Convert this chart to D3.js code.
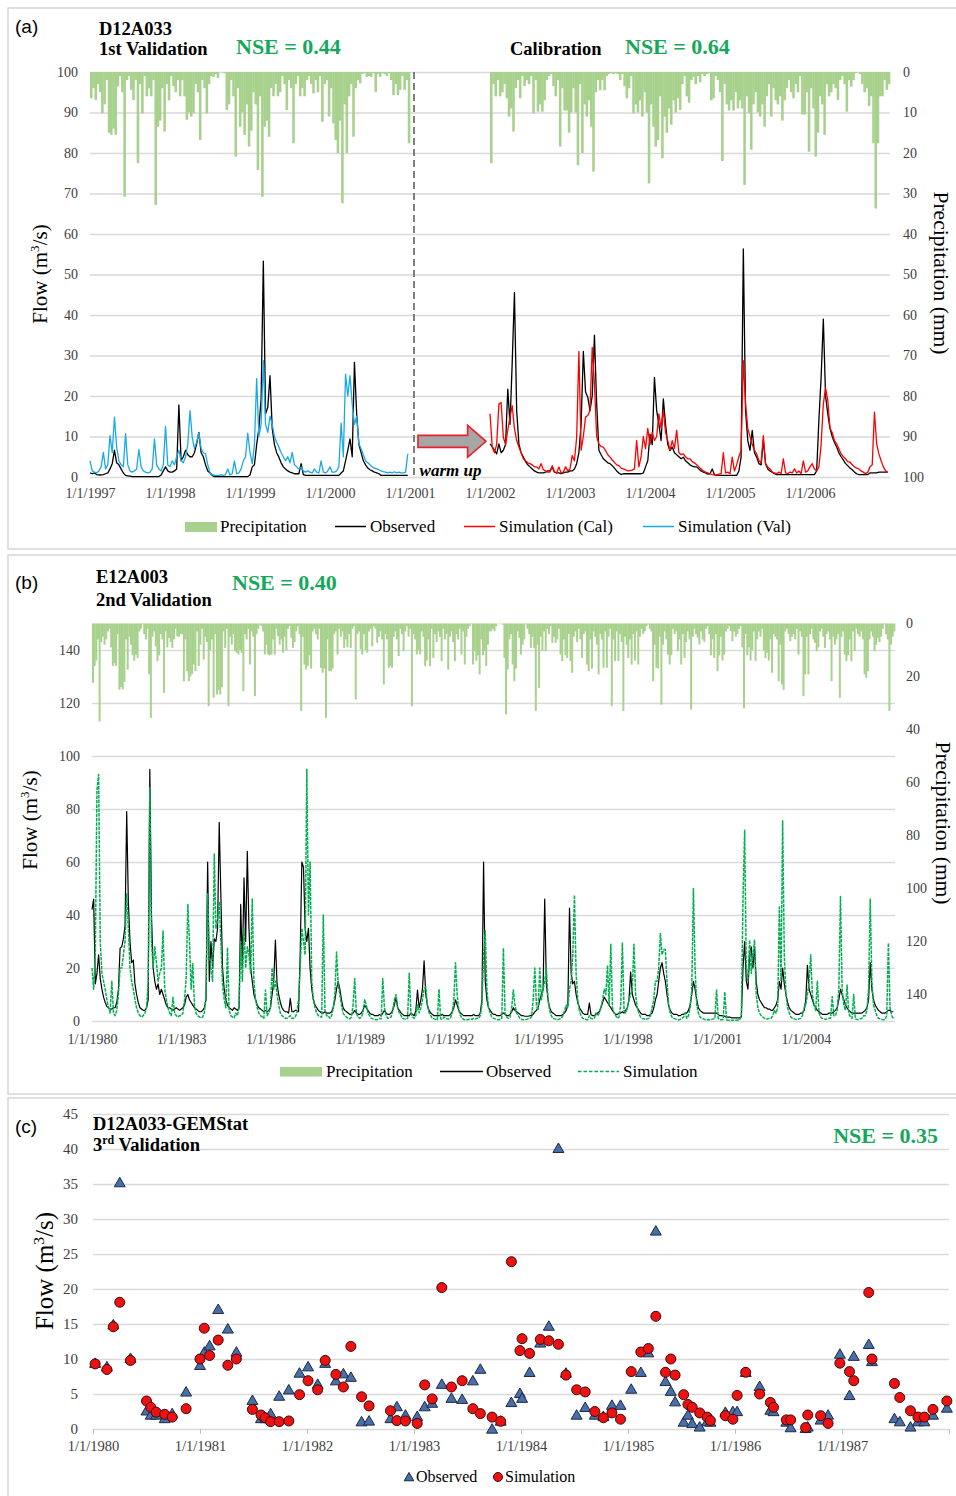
<!DOCTYPE html>
<html>
<head>
<meta charset="utf-8">
<script src="https://cdn.jsdelivr.net/npm/d3@7"></script>
<style>
  body { margin: 0; background: #fff; }
</style>
</head>
<body>
<svg id="chart" width="956" height="1496"></svg>
<script>
// ---- panel (a): D12A033, 36 samples per year ----
const yearsA = [1997, 1998, 1999, 2000, 2001, 2002, 2003, 2004, 2005, 2006];

// 1997-2000 (validation)
const precipA1 = [
  6.5, 4, 6.9, 3, 5, 10.2, 8, 2, 15, 15.5, 14, 15.5, 3.6, 1, 5, 30.8, 2, 1, 4.4, 6.9, 2, 22.5, 3, 10.2, 1, 6, 4, 6, 2, 32.8, 13.5, 12, 4, 14.7, 3, 7,
  1, 3.5, 5, 2, 6, 2, 6, 11.8, 10, 11, 10.2, 3, 5, 16.8, 2, 4, 10.2, 3, 1, 1.2, 0.5, 1.5, 0, 0, 0.3, 9.4, 8, 2, 6, 20.9, 4, 13.5, 10, 15.5, 8, 18.4,
  14.5, 5, 8, 24.2, 6, 30.8, 13.5, 12, 16, 4, 6, 3, 6, 5, 1, 3, 9.4, 2, 4, 17.6, 3, 1, 6, 4, 6, 2, 1, 3, 5.3, 2, 5, 1, 12.3, 3, 2, 11,
  4, 12.7, 16.8, 20, 12, 32.4, 8, 20, 6, 3, 16, 4, 2, 2.8, 0.5, 0.3, 1.2, 1, 1.2, 0.3, 4.9, 0.5, 1.2, 0.3, 0.5, 1, 0.3, 2, 5.7, 3, 5.7, 4.4, 1, 4.4, 2, 17.6
];
const obsA1 = [
  1, 0.8, 1, 0.6, 0.5, 0.5, 0.6, 0.8, 1, 2, 3.3, 6.6, 3.5, 3, 2, 1, 0.4, 0.3, 0.2, 0.1, 0.1, 0.1, 0.1, 0.1, 0.1, 0.1, 0.1, 0.1, 0.1, 0.1, 0.1, 0.1, 0.5, 1.5, 2.5, 1.5,
  1.2, 1.2, 1.5, 2, 17.8, 4, 5, 6.6, 5.5, 5, 5, 6, 8.2, 11, 6, 5, 3, 1.5, 1, 0.4, 0.1, 0.1, 0.1, 0.1, 0.1, 0.1, 0.1, 0.1, 0.1, 0.1, 0.1, 0.1, 0.1, 0.1, 0.1, 0.1,
  0.5, 2.5, 3, 8, 12, 19.3, 53.3, 15.6, 17.2, 25, 12, 8, 6, 4.9, 3.5, 2.5, 2, 1.5, 1.2, 1, 0.8, 0.8, 0.8, 3.3, 0.6, 0.4, 0.4, 0.4, 0.4, 0.4, 0.4, 0.4, 0.4, 0.4, 0.4, 0.4,
  0.4, 0.4, 0.4, 0.4, 0.4, 1, 1.5, 4, 6.6, 9.4, 5, 28.3, 15.6, 8, 6, 4, 3, 2.2, 1.8, 1.5, 1.2, 1, 0.8, 0.4, 0.4, 0.4, 0.4, 0.4, 0.4, 0.4, 0.4, 0.4, 0.4, 0.4, 0.4, 0.4
];
const valSimA = [
  4, 1.5, 1.2, 1.0, 1.5, 2.5, 6.1, 2, 3, 10.2, 6, 14.8, 7.4, 4, 3, 2.5, 10.7, 3, 1.5, 1.2, 1.5, 2, 6.8, 2.5, 1.5, 1.2, 1, 1.2, 2, 9.4, 3, 2, 1.5, 3, 12.5, 3,
  2.5, 4, 3, 5, 6.6, 4, 3.5, 5, 8, 16.4, 9.8, 7, 8.6, 10.9, 7, 6, 5.7, 3, 1, 0.6, 0.4, 0.4, 0.4, 0.5, 0.4, 0.6, 2, 0.5, 0.8, 4, 0.8, 1, 2, 4, 5, 10.8,
  6, 3.3, 8, 24.3, 10, 13, 28.7, 13, 11, 15, 13, 10, 8.5, 7.4, 6, 5, 4, 5, 3.5, 6.1, 3, 2.5, 2, 2.5, 1.5, 1.2, 1.5, 1.2, 1.0, 2, 1.2, 1.0, 4, 1.2, 1, 1.5,
  2.5, 1.2, 1.2, 1.5, 2.5, 13.3, 5, 25.4, 20, 25, 18, 13, 15, 8.2, 7, 5.5, 4, 3.5, 3, 2.5, 2.2, 2, 1.8, 1.5, 1.3, 1.2, 1.0, 1.2, 1.0, 1.3, 1.0, 1.2, 1.0, 1.0, 1.2, 5.7
];

// 2002-2006 (calibration)
const precipA2 = [
  22.5, 3, 6, 2, 6, 5, 3, 6.5, 11, 9, 14.7, 4, 2, 6.5, 1, 3.5, 2, 3, 1, 10.2, 2, 9.8, 8, 9.8, 7, 2, 1, 0.5, 3.5, 6, 2, 18.4, 4, 9.5, 9.5, 15,
  10, 4, 10, 23, 3, 20, 8, 11, 7, 13.5, 24.6, 5, 2, 4.5, 2, 4.5, 1, 0.5, 0.3, 0.5, 0.3, 0.5, 2, 0.5, 3.5, 6.5, 4, 1, 10.2, 8, 10, 7, 11, 5, 10, 27.5,
  8, 13.5, 18.4, 16.8, 6, 21.3, 11, 15, 9, 13, 7, 10, 6.5, 9.4, 3, 1, 6, 7.6, 2, 1.2, 3, 1, 2.5, 0.5, 1, 0.5, 0.3, 7, 6.5, 1, 2, 5, 22, 3, 8, 9.5,
  7, 9.5, 5, 9, 7, 9, 27.9, 6, 10.2, 19.2, 8, 5, 10, 11, 8, 13.5, 6, 3, 11, 4, 7, 8, 6, 12, 7, 4, 2, 5, 6.5, 3, 5, 1, 10.5, 10.5, 5, 19.7,
  4, 9, 20.9, 15, 6, 8, 15.5, 3, 6, 5, 3, 4, 6.9, 2, 1, 3, 9.8, 2, 3.6, 2, 0.3, 0, 0.5, 3, 5, 4, 8.4, 6, 17.6, 33.7, 17.6, 6, 6, 2, 4.4, 3
];
const obsA2 = [
  8.2, 7.5, 6.6, 5.7, 8.2, 6, 6.6, 8, 21.7, 13, 28.3, 45.5, 16.4, 8.2, 6, 4.9, 3.8, 3, 2.5, 2, 1.5, 1.2, 1, 1, 1, 1.2, 1.5, 1.5, 2.5, 1.2, 1, 1, 0.8, 1, 1.2, 1.2,
  1.5, 1.5, 2, 3.3, 6, 13, 31, 21, 19.7, 16.4, 20, 35, 18, 6.6, 5.5, 4.5, 4, 3.5, 3.3, 2.8, 2.2, 1.5, 1, 0.6, 0.8, 0.8, 0.8, 0.8, 0.8, 0.8, 0.8, 0.8, 0.8, 1, 2.5, 4,
  10.6, 8, 24.6, 16.4, 13, 9, 19.3, 13, 8, 6.5, 7.4, 6, 5.5, 5, 4.5, 4.9, 4, 3.5, 3, 2.7, 2.5, 2.5, 2, 1.5, 1.2, 1, 0.7, 0.8, 2, 0.5, 0.4, 0.4, 0.4, 0.4, 0.4, 0.4,
  0.4, 0.4, 0.4, 0.4, 1.5, 4.9, 56.3, 16.4, 9, 6.6, 11.5, 6, 4.9, 3.3, 3, 9, 3.3, 2, 1.5, 1.2, 0.8, 0.6, 0.6, 0.6, 0.6, 0.6, 0.6, 0.6, 0.6, 0.6, 0.6, 0.6, 0.6, 0.6, 0.6, 0.6,
  0.6, 0.6, 0.6, 1.5, 14, 24.6, 39, 20, 15.6, 12, 10, 8.5, 7.4, 6, 5, 4.2, 3.3, 2.8, 2.2, 1.8, 1.2, 0.8, 0.6, 0.6, 0.6, 0.6, 0.6, 1, 1, 1, 1, 1.2, 1.2, 1.2, 1.2, 1.2
];
const calSimA = [
  15.6, 7.4, 6, 8, 18, 18.4, 9.8, 8, 11.5, 14.8, 17.6, 12, 9, 7.4, 6, 4.5, 4, 3.5, 3.3, 3, 2.5, 2.5, 2, 3.3, 1.8, 1.5, 1.2, 1.2, 2.8, 1.2, 1, 2.5, 1, 1.2, 2.5, 1.5,
  2, 5.3, 4, 9.8, 31, 6.6, 10, 14.8, 15.2, 16.4, 32, 23, 10, 8.2, 7.5, 7.4, 6.5, 5.5, 4.9, 4.2, 3.6, 3, 2.8, 2.2, 2, 1.8, 1.5, 1.6, 1.7, 2, 9, 2.5, 5, 10, 7, 12,
  8, 11, 9, 10, 15.6, 12, 16.4, 11, 9, 6.6, 9, 7, 11.5, 6, 5.5, 5.7, 5, 4.5, 4.5, 3.8, 3.5, 3, 2.5, 2, 1.5, 1.2, 1, 0.8, 0.6, 0.5, 0.5, 0.7, 0.8, 6, 1, 1.2,
  0.8, 4.9, 1.5, 3, 5, 6.6, 28.7, 18, 12, 10, 8, 6.6, 5.7, 4, 3.5, 10.2, 3.3, 2.5, 2, 1.2, 1, 0.8, 1.2, 0.8, 4.5, 1, 0.8, 1.2, 1, 2, 1, 1.5, 0.8, 4, 1.2, 1.5,
  2.5, 3.3, 2, 1.5, 2.5, 8, 18, 22, 18.9, 12, 11, 9, 8.2, 7, 5.7, 5, 4.5, 3.8, 3.7, 3, 2.5, 2.2, 2, 1.5, 1.2, 0.8, 1.2, 2.5, 3, 16, 8.2, 5.7, 4, 2.5, 1.5, 1.2
];

// ---- panel (b): E12A003, 1980-2006, 18 samples per year ----
const yearsB = [1980, 1983, 1986, 1989, 1992, 1995, 1998, 2001, 2004];
const precipB = [
  22.4, 16, 14, 6, 37, 7, 5, 8, 6, 3, 2, 9, 16, 15, 16, 4, 25, 24,
  24.9, 22, 6, 17.4, 5, 8, 12, 14, 11.7, 13, 3, 2, 0.3, 4, 6, 2, 19.2, 35.6,
  5, 3, 8.6, 14.2, 12, 4, 6, 26.2, 3, 9, 5.4, 7, 9.2, 6, 2, 4.8, 5, 4,
  4, 21.8, 6, 18, 21.8, 20, 19, 15.5, 18, 3, 16, 8, 2, 13.6, 5, 7, 31.2, 10,
  6, 28, 4, 26.8, 25, 26.8, 24, 3, 9.2, 2, 31.2, 5, 8, 4, 10.4, 11, 11.7, 10,
  11, 25.5, 4, 6, 2, 15.5, 3, 5, 27.4, 4, 2, 0.5, 1, 3, 11.7, 8, 11.7, 12,
  11.7, 6, 11.7, 2, 4.8, 8, 6, 11, 5, 10, 2, 1, 5.4, 9.2, 7, 3, 1, 4,
  33, 5, 15.5, 17.4, 16, 12, 17, 3, 2, 4, 6, 2, 16.7, 18.6, 17, 35.6, 6, 18,
  18, 17, 4, 3, 11.7, 2, 5, 3, 9.2, 6, 9, 4, 9.2, 2, 1, 28.7, 4, 3,
  9.8, 11.7, 4, 10, 11, 3, 2, 8.6, 1, 2, 7.3, 5, 3, 6, 23, 4, 6, 16.7,
  16, 16.7, 5, 3, 6, 12.3, 2, 4, 10.4, 3, 1, 5, 2, 31.2, 4, 6, 11.7, 10,
  11.7, 3, 5, 16.1, 14, 6, 16.1, 2, 13, 4, 7, 3, 5, 14.2, 2, 6, 4, 17.4,
  5, 3, 7, 14.2, 4, 6, 2, 11.7, 3, 15.5, 5, 2, 1, 0.3, 15.5, 10.4, 14, 12,
  19.2, 6, 12, 10.4, 16, 8, 3, 2.9, 2, 2.9, 1, 0, 0.3, 0, 0.5, 13, 34.3, 17.4,
  6, 4, 15.5, 21.8, 17, 3, 5.4, 11.7, 8, 6, 0.3, 2, 4, 9.2, 5, 9.2, 33, 8,
  24.3, 5, 10.4, 3, 10.4, 2, 4, 1, 7.3, 5, 7.3, 6, 2, 11.7, 14.2, 6, 12, 13,
  4, 14.2, 18.6, 5, 3, 7, 2, 6, 13, 4, 3, 15.5, 18, 6, 17, 3, 5, 8,
  19.2, 4, 6, 16.7, 3, 16.7, 5, 2, 31.2, 6, 14.2, 3, 14.2, 4, 7, 33, 5, 8,
  13, 6, 15.5, 4, 14, 3, 15.5, 5, 2, 4, 2.9, 1, 0.3, 2, 3, 21.8, 8, 16.7,
  17, 5, 30.6, 8, 3, 6, 11.7, 15.5, 12, 2, 4, 3, 10.4, 6, 15.5, 4, 13, 7,
  3, 6, 32.5, 5, 2, 4, 5.4, 7.9, 3, 6, 7, 2, 1, 4, 12, 6, 13, 4,
  18, 12, 5, 14, 11.7, 3, 2, 1, 2.9, 6.7, 3, 5, 4, 2, 1, 9, 32, 4,
  12, 9, 14, 10, 3, 14.2, 6, 3, 5, 2, 10, 13, 11, 14, 6, 18.6, 4, 5,
  6, 21.8, 8, 23, 25, 3, 2, 4, 6.7, 5, 4, 6, 2, 11.7, 3, 5, 27.4, 19.2,
  5, 19.2, 4, 2, 6, 7.3, 10.4, 9, 3, 2, 5, 9.2, 4, 3, 6, 21.8, 5, 8,
  6, 4, 28, 5, 3, 11.7, 14.2, 12, 6, 14.2, 3, 10.4, 2, 4, 5, 3, 6, 19.2,
  20.5, 18, 6, 3, 5, 10.4, 8, 5.4, 7, 5, 2, 0.3, 4, 6, 33, 8, 5, 3
];
const obsB = [
  42, 46, 14, 18, 25, 16, 12, 9, 7, 5.5, 5, 4.5, 4.5, 5, 5, 7, 12, 27.5,
  28, 31, 36, 79, 45, 30, 22, 23, 14, 10, 7, 5, 4.5, 4, 4, 5, 8, 95,
  40, 20, 15, 12, 14, 10, 12, 10, 8, 6, 5, 5, 4.5, 4, 4.5, 5, 4.5, 4,
  4.5, 5, 6, 9, 10, 8, 7, 6, 5, 4.5, 4, 3.5, 3.5, 4, 5, 8, 60, 15,
  30, 20, 31, 30, 35, 75, 47, 20, 12, 8, 6, 5, 4.5, 4, 5, 4.5, 4, 5,
  44, 20, 54, 30, 64, 35, 20, 15, 10, 8, 6, 5, 4.5, 4, 3.5, 4, 3.5, 4,
  5, 10, 15, 30.5, 14, 10, 7, 5, 4, 3.5, 3.5, 3, 8.5, 3.5, 3.5, 4, 4, 3.5,
  25, 60, 58, 35, 30, 35, 20, 12, 8, 6, 5, 4, 3.5, 3, 3, 3.5, 3, 3,
  3, 3.5, 5, 8, 12, 15, 12, 8, 5, 4, 3.5, 3, 2.5, 2.5, 3, 4, 3, 2.5,
  2.5, 3, 4, 6, 5, 4, 3, 2.5, 2.5, 2, 2, 2, 2.5, 2, 3, 4, 3, 2.5,
  2.5, 3, 4, 6, 9, 5, 4, 3, 2.5, 2, 2, 2, 2, 3, 2.5, 2, 4, 11.7,
  5, 8, 12, 22.7, 10, 6, 4, 3, 2.5, 2, 2, 2, 2, 2, 2.5, 2, 2, 2,
  2, 2.5, 3.5, 5, 8, 6, 4, 3, 2.5, 2, 2, 2, 2, 2, 2, 2.5, 2, 2,
  2, 3, 8, 60, 15, 8, 5, 4, 3, 2.5, 2.5, 2, 2, 2, 2.5, 3, 2.5, 2,
  2, 2.5, 3.5, 5, 4, 3.5, 3, 2.5, 2, 2, 1.8, 1.8, 1.8, 2, 2, 2.5, 3.5, 4,
  5, 8, 10, 12, 46, 14, 8, 5, 3.5, 3, 2.5, 2, 2, 2, 2, 2.5, 3, 4,
  6, 42.6, 18, 14, 15, 10, 7, 5, 4, 3, 2.5, 2.5, 2.5, 6.8, 2.5, 2, 2, 2.5,
  3, 3.5, 5, 7, 9, 8, 7, 6, 5, 4, 3, 2.5, 2.5, 3, 3, 3.5, 3, 4,
  5, 8, 18.5, 10, 8, 6, 5, 4, 3, 2.5, 2.5, 2.5, 2, 2, 2.5, 3, 5, 8,
  10, 15, 20, 22, 18, 15, 10, 6, 4, 3, 2.5, 2.5, 2.5, 2, 2, 2.5, 2.5, 3,
  3, 4, 6, 10, 15, 12, 8, 5, 4, 3.5, 3, 3, 3, 3, 3, 3, 3, 3,
  3, 2.5, 2, 2, 2, 1.8, 1.5, 1.5, 1.5, 1.2, 1.2, 1.2, 1.2, 1.2, 1.2, 1.5, 20, 30,
  15, 12, 25, 28, 20, 28, 15, 10, 8, 7, 6, 5, 5, 4.5, 4.5, 4, 4, 5,
  6, 8, 15, 12, 20, 14, 10, 7, 5, 4, 3.5, 3, 2.5, 2.5, 2.5, 3, 3, 4,
  8, 21, 12, 10, 8, 6, 5, 4, 3.5, 3, 2.5, 2.5, 2.5, 2.5, 3, 3, 3, 3.5,
  4, 5, 8, 12, 10, 8, 6, 5, 4, 3.5, 3, 3, 3, 3, 3, 3, 3, 3.5,
  4, 5, 8, 22, 12, 8, 6, 5, 4, 3.5, 3, 3, 3, 3.5, 4, 4, 3.5, 3.5
];
const simB = [
  20, 12, 25, 87, 93, 30, 18, 15, 12, 8, 5, 3, 15, 3, 2, 4, 10, 20,
  20, 25, 30, 48, 35, 20, 15, 12, 8, 5, 3, 2, 1.5, 2, 3, 5, 15, 88,
  30, 20, 28, 22, 15, 18, 20, 34, 12, 8, 5, 3, 2, 9, 3, 2, 1.5, 2,
  2, 3, 8, 16, 44, 30, 12, 21.7, 6, 3, 2, 1.5, 1.2, 1.5, 3, 10, 48, 25,
  20, 15, 63, 35, 38, 45, 30, 14, 8, 5, 27.7, 4, 2, 1.5, 1.2, 3, 2, 5,
  30, 15, 35, 20, 28, 25, 18, 46, 15, 8, 5, 3, 2, 1.5, 1, 11.7, 2, 3,
  5, 20, 12, 15, 10, 6, 3, 2, 1.5, 1, 1, 1.5, 2, 1, 1, 1.5, 3, 8,
  20, 35, 30, 25, 95, 40, 60, 15, 8, 5, 3, 2, 1.5, 1.5, 40, 4, 2, 2,
  1, 2, 5, 10, 26, 14, 10, 6, 3, 2, 1.5, 1, 0.8, 1.5, 6, 16, 3, 1.5,
  1, 1.5, 3, 8, 6, 3, 2, 1, 0.8, 0.6, 0.5, 0.6, 1, 0.8, 16, 5, 2, 1,
  1, 1.5, 4, 8, 10, 5, 3, 2, 1, 0.8, 0.6, 1, 18, 3, 1.5, 1, 2, 6,
  3, 5, 8, 12, 13, 6, 3, 2, 1, 0.8, 0.6, 0.5, 12, 0.8, 0.6, 1.5, 1, 0.8,
  0.8, 1.2, 3, 8, 22, 10, 4, 2, 1, 0.6, 0.5, 0.5, 0.6, 0.8, 0.6, 1, 0.8, 1,
  1, 2, 6, 25, 34, 12, 5, 3, 1.5, 1, 0.8, 0.6, 0.5, 0.6, 1, 27.5, 3, 1.5,
  1, 1.5, 5, 11.7, 6, 3, 2, 1, 0.6, 0.5, 0.5, 0.6, 0.8, 1, 1.5, 8, 20, 6,
  4, 20, 8, 12, 15, 20, 8, 4, 2, 1, 0.8, 0.6, 0.5, 0.8, 1, 2, 4, 6,
  5, 12, 15, 25, 47.5, 18, 8, 4, 2, 1, 0.8, 0.6, 0.5, 2, 1, 0.8, 1, 3,
  2, 3, 5, 8, 12, 10, 21, 6, 29, 5, 3, 2, 1, 1.5, 6, 29.6, 4, 3,
  5, 8, 10, 12, 29, 10, 5, 3, 1.5, 1, 0.8, 0.6, 0.8, 1, 2, 5, 8, 15,
  15, 20, 33, 25, 27, 27, 15, 6, 3, 1.5, 1, 0.8, 0.6, 0.5, 0.6, 1, 1.5, 3,
  1, 2, 5, 12, 50, 20, 6, 3, 1.5, 1, 0.8, 0.5, 0.5, 0.6, 0.5, 0.6, 0.8, 1,
  11.7, 1, 0.5, 0.5, 0.6, 11, 0.5, 0.3, 0.3, 0.3, 0.3, 0.3, 0.3, 0.4, 0.5, 2, 45.6, 72,
  20, 15, 30.5, 18, 25, 30.5, 10, 5, 3, 2, 1.5, 1, 0.8, 0.8, 1, 1, 2, 4,
  3, 5, 43, 15, 75.6, 25, 10, 5, 3, 1.5, 1, 0.8, 0.6, 0.6, 0.8, 1, 2, 5,
  6, 10, 15, 25, 10, 6, 4, 15, 3, 1.5, 1, 0.8, 0.6, 0.8, 1, 1, 9.2, 2,
  2, 4, 12, 47, 12, 6, 4, 13.6, 3, 1.5, 1, 10, 0.8, 0.6, 0.6, 0.8, 1, 2,
  2, 4, 12, 46, 15, 6, 4, 2, 1, 0.8, 0.6, 0.5, 0.6, 2, 29.4, 5, 2, 1
];

// ---- panel (c): D12A033-GEMStat grab samples ----
const yearsC = [1980, 1981, 1982, 1983, 1984, 1985, 1986, 1987];
const dateC = [
  1980.02, 1980.13, 1980.19, 1980.25, 1980.35, 1980.50, 1980.54, 1980.59, 1980.67, 1980.74, 1980.87,
  1981.00, 1981.04, 1981.09, 1981.17, 1981.26, 1981.34, 1981.49, 1981.57, 1981.61, 1981.66, 1981.74, 1981.83, 1981.93,
  1982.01, 1982.10, 1982.17, 1982.27, 1982.34, 1982.41, 1982.51, 1982.58, 1982.78, 1982.84, 1982.92,
  1983.03, 1983.10, 1983.17, 1983.26, 1983.35, 1983.45, 1983.55, 1983.62, 1983.73, 1983.81, 1983.91, 1983.99,
  1984.01, 1984.08, 1984.18, 1984.26, 1984.35, 1984.42, 1984.52, 1984.60, 1984.69, 1984.77, 1984.85, 1984.93,
  1985.03, 1985.12, 1985.19, 1985.26, 1985.35, 1985.40, 1985.44, 1985.52, 1985.56, 1985.60, 1985.67, 1985.74, 1985.77, 1985.91, 1985.98,
  1986.02, 1986.10, 1986.23, 1986.33, 1986.36, 1986.48, 1986.52, 1986.66, 1986.68, 1986.80, 1986.87, 1986.98,
  1987.07, 1987.11, 1987.25, 1987.28, 1987.49, 1987.54, 1987.64, 1987.71, 1987.77, 1987.85, 1987.98
];
const obsC = [
  9.4, 8.9, 14.9, 35.2, 10.1, 2.6, 2.0, 2.0, 1.5, 2.2, 5.3,
  9.1, 11.0, 11.9, 17.1, 14.3, 11.0, 4.1, 1.5, 1.5, 2.2, 4.7, 5.6, 8.0,
  8.9, 6.4, 9.4, 6.9, 7.9, 7.4, 1.05, 1.15, 1.5, 3.2, 2.0,
  1.8, 3.2, 3.7, 6.4, 4.4, 4.25, 6.9, 8.55, 0, 1.14, 3.8, 5.1,
  4.4, 8.1, 12.3, 14.7, 40.1, 8.0, 2.0, 3.1, 2.0, 1.8, 3.4, 3.4,
  5.7, 8.1, 10.9, 28.3, 6.8, 5.4, 3.9, 1.0, 2.0, 0.8, 0.3, 1.05, 1.0, 2.4, 2.5,
  2.5, 8.1, 6.1, 2.7, 2.5, 1.0, 0.2, 0.1, 0.3, 1.3, 2.0, 10.7,
  4.8, 10.4, 12.1, 9.65, 1.5, 1.05, 0.3, 1.05, 1.05, 2.0, 3.0
];
const simC = [
  9.3, 8.5, 14.6, 18.1, 9.8, 4.0, 3.1, 2.4, 2.1, 1.7, 2.9,
  10.0, 14.4, 10.5, 12.7, 9.1, 10.0, 2.8, 2.0, 1.6, 1.05, 1.05, 1.15, 4.9,
  6.9, 5.6, 9.8, 7.8, 6.0, 11.8, 4.6, 3.3, 2.6, 1.2, 1.15,
  0.8, 6.3, 4.3, 20.2, 6.0, 6.9, 2.9, 2.2, 1.7, 1.1, 23.9, 11.2,
  12.9, 10.8, 12.8, 12.6, 12.1, 7.7, 5.6, 5.3, 2.5, 1.6, 2.3, 1.4,
  8.2, 11.0, 11.5, 16.1, 8.1, 10.0, 7.7, 4.9, 3.5, 3.1, 2.3, 1.7, 1.2, 1.9, 1.4,
  4.8, 8.1, 5.0, 3.8, 3.1, 1.3, 1.3, 0.2, 2.0, 1.9, 0.8, 9.4,
  8.2, 6.9, 19.5, 10.0, 6.5, 4.5, 2.6, 1.7, 1.7, 2.8, 4.0
];

const serif = '"Liberation Serif", "Times New Roman", serif';
const sans = '"Liberation Sans", Arial, sans-serif';
const col = {
  precip: '#a8d18d', nse: '#16a85a', blue: '#19a9e8', red: '#ff0000',
  simB: '#00b050', grid: '#d9d9d9', tick: '#404040', frame: '#d6d6d6'
};

const svg = d3.select('#chart');

// panel frames
[[8, 8, 541], [8, 555, 539], [8, 1098, 420]].forEach(([x, y, h]) => {
  svg.append('rect').attr('x', x).attr('y', y).attr('width', 960).attr('height', h)
    .attr('fill', 'none').attr('stroke', col.frame).attr('stroke-width', 1.5);
});

function series(values, start, span) {
  const dt = span / values.length;
  return values.map((v, i) => ({ t: start + i * dt, v: v, dt: dt }));
}

function text(x, y, str, opt) {
  opt = opt || {};
  return svg.append('text').attr('x', x).attr('y', y)
    .attr('font-family', opt.family || serif)
    .attr('font-size', opt.size || 18)
    .attr('font-weight', opt.weight || 'normal')
    .attr('font-style', opt.style || 'normal')
    .attr('fill', opt.fill || '#000')
    .attr('text-anchor', opt.anchor || 'start')
    .text(str);
}

function styleAxis(g, size) {
  g.select('.domain').remove();
  g.attr('font-family', serif).attr('font-size', size);
  g.selectAll('text').attr('fill', col.tick);
}

function grid(yScale, values, x0, x1) {
  svg.append('g').attr('transform', `translate(${x0},0)`)
    .call(d3.axisLeft(yScale).tickValues(values).tickSize(-(x1 - x0)).tickFormat(''))
    .call(g => g.select('.domain').remove())
    .selectAll('line').attr('stroke', col.grid).attr('stroke-width', 1.3);
}

function bars(data, x, p, color) {
  svg.append('g').selectAll('rect').data(data.filter(d => d.v > 0)).enter().append('rect')
    .attr('x', d => x(d.t))
    .attr('width', d => x(d.t + d.dt) - x(d.t) + 0.35)
    .attr('y', p(0))
    .attr('height', d => p(d.v) - p(0))
    .attr('fill', color);
}

function flowLine(data, x, y, color, width, dash) {
  const line = d3.line().x(d => x(d.t)).y(d => y(d.v));
  const path = svg.append('path').datum(data).attr('d', line)
    .attr('fill', 'none').attr('stroke', color).attr('stroke-width', width)
    .attr('stroke-linejoin', 'round');
  if (dash) path.attr('stroke-dasharray', dash);
}

function yTitle(x, y, rot, size, extra) {
  const t = svg.append('text')
    .attr('transform', `translate(${x},${y}) rotate(${rot})`)
    .attr('text-anchor', 'middle')
    .attr('font-family', serif).attr('font-size', size).attr('fill', '#000');
  if (extra === 'flow') {
    t.append('tspan').text('Flow (m');
    t.append('tspan').attr('dy', -size * 0.38).attr('font-size', size * 0.62).text('3');
    t.append('tspan').attr('dy', size * 0.38).text('/s)');
  } else {
    t.text(extra);
  }
}

// =================== panel (a) ===================
const xA = d3.scaleLinear().domain([1997, 2007]).range([90, 890]);
const yA = d3.scaleLinear().domain([0, 100]).range([477, 72]);
const pA = d3.scaleLinear().domain([0, 100]).range([72, 477]);
const ticksA = d3.range(0, 101, 10);

grid(yA, ticksA, 90, 890);

bars(series(precipA1, 1997, 4), xA, pA, col.precip);
bars(series(precipA2, 2002, 5), xA, pA, col.precip);

flowLine(series(obsA1, 1997, 4), xA, yA, '#000', 1.3);
flowLine(series(valSimA, 1997, 4), xA, yA, col.blue, 1.3);
flowLine(series(obsA2, 2002, 5), xA, yA, '#000', 1.3);
flowLine(series(calSimA, 2002, 5), xA, yA, col.red, 1.3);

svg.append('g').attr('transform', 'translate(90,0)')
  .call(d3.axisLeft(yA).tickValues(ticksA).tickSize(0).tickPadding(12))
  .call(g => styleAxis(g, 14));
svg.append('g').attr('transform', 'translate(890,0)')
  .call(d3.axisRight(pA).tickValues(ticksA).tickSize(0).tickPadding(13))
  .call(g => styleAxis(g, 14));
svg.append('g').attr('transform', 'translate(0,477)')
  .call(d3.axisBottom(xA).tickValues(yearsA).tickFormat(d => '1/1/' + d).tickSize(0).tickPadding(11))
  .call(g => styleAxis(g, 14));

// warm-up divider and arrow
svg.append('line')
  .attr('x1', xA(2001.05)).attr('x2', xA(2001.05)).attr('y1', yA(100)).attr('y2', yA(0))
  .attr('stroke', '#7f7f7f').attr('stroke-width', 2).attr('stroke-dasharray', '7,4');
(function () {
  const x0 = xA(2001.1), x1 = xA(2001.72), x2 = xA(2001.95), yc = yA(8.8);
  const pts = [[x0, yc - 6], [x1, yc - 6], [x1, yc - 16], [x2, yc], [x1, yc + 16], [x1, yc + 6], [x0, yc + 6]];
  svg.append('path').attr('d', d3.line()(pts) + 'Z')
    .attr('fill', '#a6a6a6').attr('stroke', '#e8222a').attr('stroke-width', 1.6);
})();
text(xA(2001.12), 476, 'warm up', { size: 17, weight: 'bold', style: 'italic' });

yTitle(47, 274, -90, 21, 'flow');
yTitle(934, 273, 90, 21.5, 'Precipitation  (mm)');

text(15, 33, '(a)', { family: sans, size: 19 });
text(99, 35, 'D12A033', { size: 18.5, weight: 'bold' });
text(99, 55, '1st Validation', { size: 18.5, weight: 'bold' });
text(236, 54, 'NSE = 0.44', { size: 22, weight: 'bold', fill: col.nse });
text(510, 55, 'Calibration', { size: 18.5, weight: 'bold' });
text(625, 54, 'NSE = 0.64', { size: 22, weight: 'bold', fill: col.nse });

// legend (a)
svg.append('rect').attr('x', 185).attr('y', 522).attr('width', 32).attr('height', 10).attr('fill', col.precip);
text(220, 532, 'Precipitation', { size: 17 });
[[335, '#000', 'Observed'], [464, col.red, 'Simulation (Cal)'], [643, col.blue, 'Simulation (Val)']].forEach(([x, c, s]) => {
  svg.append('line').attr('x1', x).attr('x2', x + 31).attr('y1', 526.5).attr('y2', 526.5).attr('stroke', c).attr('stroke-width', 1.5);
  text(x + 35, 532, s, { size: 17 });
});

// =================== panel (b) ===================
const xB = d3.scaleLinear().domain([1980, 2007]).range([92, 895]);
const yB = d3.scaleLinear().domain([0, 150]).range([1021, 623.5]);
const pB = d3.scaleLinear().domain([0, 150]).range([623.5, 1021]);
const ticksB = d3.range(0, 141, 20);

grid(yB, ticksB, 92, 895);
bars(series(precipB, 1980, 27), xB, pB, col.precip);
flowLine(series(obsB, 1980, 27), xB, yB, '#000', 1.2);
flowLine(series(simB, 1980, 27), xB, yB, col.simB, 1.5, '3.5,1');

svg.append('g').attr('transform', 'translate(92,0)')
  .call(d3.axisLeft(yB).tickValues(ticksB).tickSize(0).tickPadding(12))
  .call(g => styleAxis(g, 14));
svg.append('g').attr('transform', 'translate(895,0)')
  .call(d3.axisRight(pB).tickValues(ticksB).tickSize(0).tickPadding(11))
  .call(g => styleAxis(g, 14));
svg.append('g').attr('transform', 'translate(0,1021)')
  .call(d3.axisBottom(xB).tickValues(yearsB).tickFormat(d => '1/1/' + d).tickSize(0).tickPadding(13))
  .call(g => styleAxis(g, 14));

yTitle(37, 820, -90, 21, 'flow');
yTitle(936, 823, 90, 21.5, 'Precipitation  (mm)');

text(15, 589, '(b)', { family: sans, size: 19 });
text(96, 583, 'E12A003', { size: 18.5, weight: 'bold' });
text(96, 606, '2nd Validation', { size: 18.5, weight: 'bold' });
text(232, 590, 'NSE = 0.40', { size: 22, weight: 'bold', fill: col.nse });

// legend (b)
svg.append('rect').attr('x', 280).attr('y', 1067).attr('width', 42).attr('height', 9.5).attr('fill', col.precip);
text(326, 1077, 'Precipitation', { size: 17 });
svg.append('line').attr('x1', 440).attr('x2', 483).attr('y1', 1071.5).attr('y2', 1071.5).attr('stroke', '#000').attr('stroke-width', 1.5);
text(486, 1077, 'Observed', { size: 17 });
svg.append('line').attr('x1', 578).attr('x2', 619).attr('y1', 1071.5).attr('y2', 1071.5).attr('stroke', col.simB).attr('stroke-width', 1.5).attr('stroke-dasharray', '3.5,2');
text(623, 1077, 'Simulation', { size: 17 });

// =================== panel (c) ===================
const xC = d3.scaleLinear().domain([1980, 1988]).range([93, 949]);
const yC = d3.scaleLinear().domain([0, 45]).range([1429, 1114]);
const ticksC = d3.range(0, 46, 5);

grid(yC, ticksC, 93, 949);

svg.append('g').attr('transform', 'translate(93,0)')
  .call(d3.axisLeft(yC).tickValues(ticksC).tickSize(0).tickPadding(15))
  .call(g => styleAxis(g, 15));
svg.append('g').attr('transform', 'translate(0,1429)')
  .call(d3.axisBottom(xC).tickValues(yearsC.concat([1988])).tickFormat(d => d < 1988 ? '1/1/' + d : '').tickSize(5).tickPadding(7))
  .call(g => styleAxis(g, 14.5))
  .call(g => g.selectAll('line').attr('stroke', '#bfbfbf'));

const pointsC = dateC.map((t, i) => ({ t: t, obs: obsC[i], sim: simC[i] }));
const tri = d3.symbol().type(d3.symbolTriangle).size(52);
svg.append('g').selectAll('path').data(pointsC).enter().append('path')
  .attr('d', tri)
  .attr('transform', d => `translate(${xC(d.t)},${yC(d.obs) + 1})`)
  .attr('fill', '#4a6ea8').attr('stroke', '#1b2a44').attr('stroke-width', 1);
svg.append('g').selectAll('circle').data(pointsC).enter().append('circle')
  .attr('cx', d => xC(d.t)).attr('cy', d => yC(d.sim)).attr('r', 5)
  .attr('fill', '#ee1111').attr('stroke', '#3a0a0a').attr('stroke-width', 1);

yTitle(53, 1271, -90, 25, 'flow');

text(15, 1133, '(c)', { family: sans, size: 19 });
text(93, 1130, 'D12A033-GEMStat', { size: 18.5, weight: 'bold' });
const v3 = text(93, 1151, '3', { size: 18.5, weight: 'bold' });
v3.append('tspan').attr('dy', -7).attr('font-size', 12).text('rd');
v3.append('tspan').attr('dy', 7).text(' Validation');
text(938, 1143, 'NSE = 0.35', { size: 22, weight: 'bold', fill: col.nse, anchor: 'end' });

// legend (c)
svg.append('path').attr('d', d3.symbol().type(d3.symbolTriangle).size(40)())
  .attr('transform', 'translate(409,1478)').attr('fill', '#4a6ea8').attr('stroke', '#1b2a44').attr('stroke-width', 1);
text(416, 1482, 'Observed', { size: 16 });
svg.append('circle').attr('cx', 498).attr('cy', 1477).attr('r', 4.5).attr('fill', '#ee1111').attr('stroke', '#3a0a0a').attr('stroke-width', 1);
text(505, 1482, 'Simulation', { size: 16 });
</script>
</body>
</html>
